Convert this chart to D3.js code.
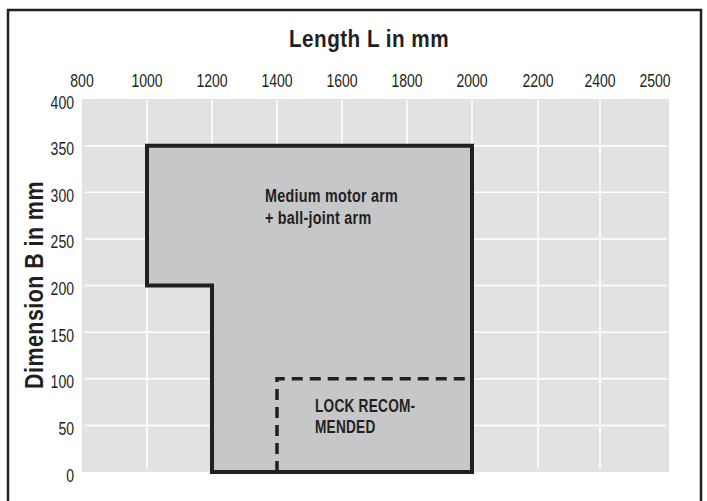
<!DOCTYPE html>
<html>
<head>
<meta charset="utf-8">
<script src="https://cdn.jsdelivr.net/npm/d3@7/dist/d3.min.js"></script>
<style>
  html, body { margin: 0; padding: 0; background: #fff; }
  svg { display: block; }
</style>
</head>
<body>
<script>
// ---- data ----
const xTickValues = [800, 1000, 1200, 1400, 1600, 1800, 2000, 2200, 2400, 2500];
const yTickValues = [0, 50, 100, 150, 200, 250, 300, 350, 400];
// working-range outline (Length L, Dimension B)
const regionL = [1000, 2000, 2000, 1200, 1200, 1000];
const regionB = [350, 350, 0, 0, 200, 200];
// "lock recommended" dashed boundary
const lockL = [1400, 1400, 2000];
const lockB = [0, 100, 100];
const titleX = "Length L in mm";
const titleY = "Dimension B in mm";
const regionLabel = ["Medium motor arm", "+ ball-joint arm"];
const lockLabel = ["LOCK RECOM-", "MENDED"];

// ---- layout ----
const W = 707, H = 501;
const plotLeft = 82, plotRight = 669, plotTop = 99, plotBottom = 472;
const ink = "#231f20";
const font = "'Liberation Sans', Arial, sans-serif";

const svg = d3.select("body").append("svg").attr("width", W).attr("height", H);

const x = d3.scaleLinear()
  .domain([800, 2000, 2200, 2400, 2500])
  .range([82, 472, 538, 600, 655]);
const y = d3.scaleLinear().domain([0, 400]).range([plotBottom, plotTop]);

// condensed text helper
function ctext(sel, sx) {
  return sel.attr("transform", function() {
    const tx = +this.getAttribute("data-x"), ty = +this.getAttribute("data-y");
    return `translate(${tx},${ty}) scale(${sx},1)`;
  });
}

// outer frame
svg.append("rect")
  .attr("x", 8).attr("y", 10).attr("width", 693).attr("height", 520)
  .attr("fill", "none").attr("stroke", ink).attr("stroke-width", 2.5);

// plot background
svg.append("rect")
  .attr("x", plotLeft).attr("y", plotTop)
  .attr("width", plotRight - plotLeft).attr("height", plotBottom - plotTop)
  .attr("fill", "#e1e2e4");

// gridlines
const grid = svg.append("g").attr("stroke", "#ffffff").attr("stroke-width", 1.5);
grid.selectAll("line.v")
  .data(xTickValues.filter(d => d > 800 && d < 2500))
  .join("line").attr("class", "v")
  .attr("x1", d => x(d)).attr("x2", d => x(d))
  .attr("y1", plotTop + 1).attr("y2", plotBottom - 3);
grid.selectAll("line.h")
  .data(yTickValues.filter(d => d > 0 && d < 400))
  .join("line").attr("class", "h")
  .attr("x1", plotLeft + 3).attr("x2", plotRight - 2)
  .attr("y1", d => y(d)).attr("y2", d => y(d));

// region polygon
const regionPts = regionL.map((l, i) => [x(l), y(regionB[i])]);
svg.append("path")
  .attr("d", d3.line()(regionPts) + "Z")
  .attr("fill", "#c6c7c9")
  .attr("stroke", ink).attr("stroke-width", 4)
  .attr("stroke-linejoin", "miter");

// dashed lock boundary
const lockPts = lockL.map((l, i) => [x(l), y(lockB[i])]);
svg.append("path")
  .attr("d", d3.line()(lockPts))
  .attr("fill", "none")
  .attr("stroke", ink).attr("stroke-width", 3.5)
  .attr("stroke-dasharray", "11,7");

// x tick labels (top)
svg.append("g").selectAll("text")
  .data(xTickValues).join("text")
  .attr("data-x", d => x(d)).attr("data-y", 87)
  .attr("text-anchor", "middle")
  .attr("font-family", font).attr("font-size", 18)
  .attr("fill", ink)
  .text(d => d)
  .call(ctext, 0.78);

// y tick labels
svg.append("g").selectAll("text")
  .data(yTickValues).join("text")
  .attr("data-x", 74).attr("data-y", d => y(d) + 9.5)
  .attr("text-anchor", "end")
  .attr("font-family", font).attr("font-size", 18)
  .attr("fill", ink)
  .text(d => d)
  .call(ctext, 0.78);

// axis titles
svg.append("text")
  .attr("data-x", 369).attr("data-y", 47)
  .attr("text-anchor", "middle")
  .attr("font-family", font).attr("font-weight", "bold")
  .attr("font-size", 23).attr("letter-spacing", 0.5)
  .attr("fill", ink)
  .text(titleX)
  .call(ctext, 0.9);

svg.append("text")
  .attr("transform", "translate(43,285) rotate(-90) scale(0.86,1)")
  .attr("text-anchor", "middle")
  .attr("font-family", font).attr("font-weight", "bold")
  .attr("font-size", 25).attr("letter-spacing", 0.5)
  .attr("fill", ink)
  .text(titleY);

// annotations
svg.append("g").selectAll("text")
  .data(regionLabel).join("text")
  .attr("data-x", 265).attr("data-y", (d, i) => 202 + i * 21.5)
  .attr("font-family", font).attr("font-weight", "bold")
  .attr("font-size", 17.5).attr("letter-spacing", 0.3)
  .attr("fill", ink)
  .text(d => d)
  .call(ctext, 0.82);

svg.append("g").selectAll("text")
  .data(lockLabel).join("text")
  .attr("data-x", 315).attr("data-y", (d, i) => 412 + i * 20.5)
  .attr("font-family", font).attr("font-weight", "bold")
  .attr("font-size", 17.5).attr("letter-spacing", 0.3)
  .attr("fill", ink)
  .text(d => d)
  .call(ctext, 0.78);
</script>
</body>
</html>
